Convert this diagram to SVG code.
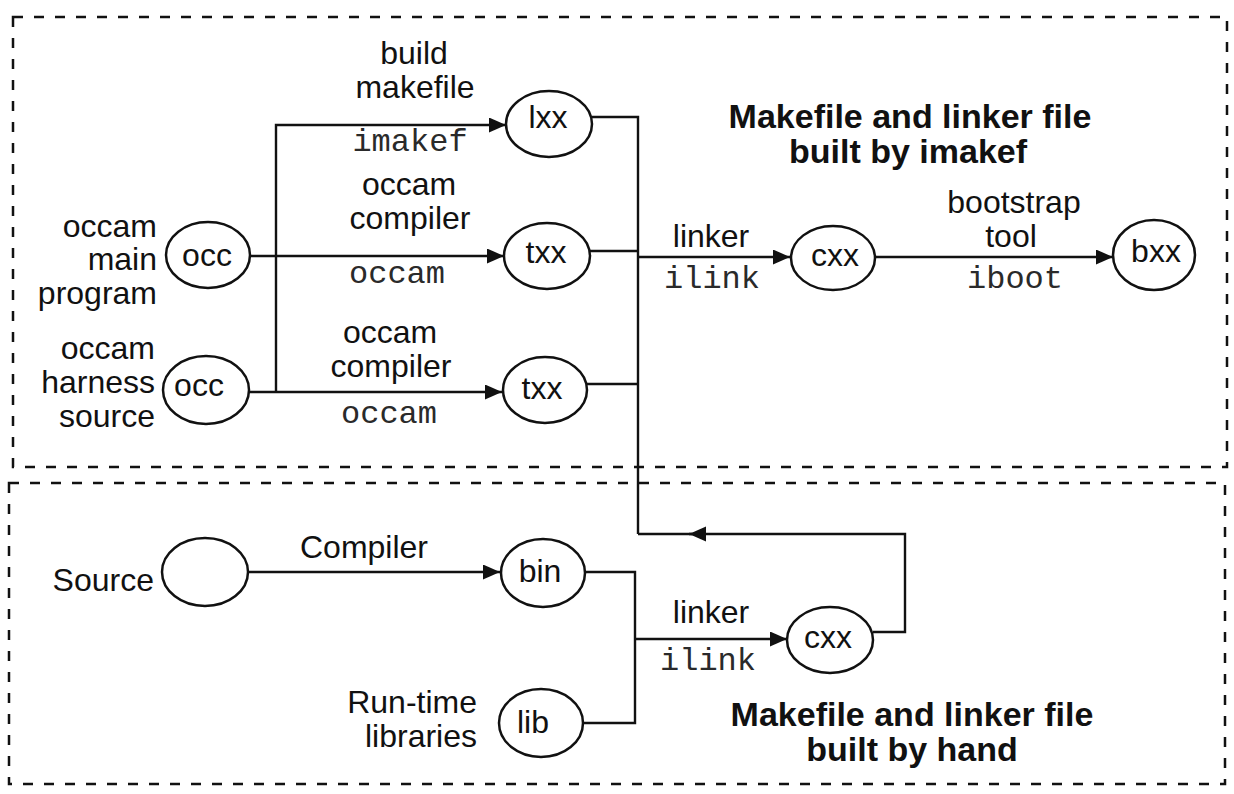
<svg xmlns="http://www.w3.org/2000/svg" width="1234" height="794" viewBox="0 0 1234 794">
  <style>
    .frame { fill: none; stroke: #111; stroke-width: 2.5; stroke-dasharray: 10 11; }
    .node ellipse { fill: #fff; stroke: #111; stroke-width: 2.5; }
    .wire { fill: none; stroke: #111; stroke-width: 2.4; }
    .sans { font-family: "Liberation Sans", Arial, sans-serif; font-size: 32px; fill: #111; }
    .mono { font-family: "Liberation Mono", "Courier New", monospace; font-size: 32px; fill: #2a2a2a; }
    .title { font-family: "Liberation Sans", Arial, sans-serif; font-size: 34px; font-weight: bold; fill: #111; }
    .mid { text-anchor: middle; }
    .end { text-anchor: end; }
  </style>
  <defs>
    <marker id="arrow" markerUnits="userSpaceOnUse" markerWidth="18" markerHeight="16" refX="17" refY="7.5" orient="auto">
      <path d="M0,0 L17,7.5 L0,15 Z" fill="#111"/>
    </marker>
  </defs>

  <rect width="1234" height="794" fill="#fff"/>

  <!-- dashed regions -->
  <g id="regions">
    <rect class="frame" x="13" y="17" width="1214" height="450"/>
    <rect class="frame" x="9" y="483" width="1216" height="301"/>
  </g>

  <!-- connectors -->
  <g id="connectors">
    <!-- imakef / occam fan-out -->
    <path class="wire" d="M276,392 V125 H506" marker-end="url(#arrow)"/>
    <path class="wire" d="M250,256 H504" marker-end="url(#arrow)"/>
    <path class="wire" d="M249,392 H502" marker-end="url(#arrow)"/>
    <!-- outputs into the linker -->
    <path class="wire" d="M592,117 H638 V534"/>
    <path class="wire" d="M590,251 H638"/>
    <path class="wire" d="M587,384 H638"/>
    <path class="wire" d="M638,257 H790" marker-end="url(#arrow)"/>
    <path class="wire" d="M875,257 H1113" marker-end="url(#arrow)"/>
    <!-- hand-built chain -->
    <path class="wire" d="M248,572 H500" marker-end="url(#arrow)"/>
    <path class="wire" d="M585,572 H635 V723 H583"/>
    <path class="wire" d="M635,639 H787" marker-end="url(#arrow)"/>
    <!-- feedback into the linker -->
    <path class="wire" d="M873,632 H905 V534 H689" marker-end="url(#arrow)"/>
    <path class="wire" d="M692,534 H638"/>
  </g>

  <!-- nodes -->
  <g id="occ-main" class="node">
    <ellipse cx="208" cy="255" rx="42" ry="33"/>
    <text class="sans mid" x="207" y="266">occ</text>
  </g>
  <g id="occ-harness" class="node">
    <ellipse cx="206" cy="390" rx="43" ry="34"/>
    <text class="sans mid" x="199" y="396">occ</text>
  </g>
  <g id="lxx" class="node">
    <ellipse cx="549" cy="124" rx="43" ry="33"/>
    <text class="sans mid" x="548" y="128">lxx</text>
  </g>
  <g id="txx-main" class="node">
    <ellipse cx="547" cy="256" rx="43" ry="33"/>
    <text class="sans mid" x="546" y="263">txx</text>
  </g>
  <g id="txx-harness" class="node">
    <ellipse cx="545" cy="390" rx="42" ry="33"/>
    <text class="sans mid" x="542" y="399">txx</text>
  </g>
  <g id="cxx-imakef" class="node">
    <ellipse cx="833" cy="258" rx="42" ry="32"/>
    <text class="sans mid" x="835" y="266">cxx</text>
  </g>
  <g id="bxx" class="node">
    <ellipse cx="1154" cy="255" rx="41" ry="35"/>
    <text class="sans mid" x="1156" y="262">bxx</text>
  </g>
  <g id="source" class="node">
    <ellipse cx="205" cy="572" rx="43" ry="34"/>
  </g>
  <g id="bin" class="node">
    <ellipse cx="543" cy="573" rx="42" ry="34"/>
    <text class="sans mid" x="540" y="582">bin</text>
  </g>
  <g id="lib" class="node">
    <ellipse cx="541" cy="723" rx="42" ry="34"/>
    <text class="sans mid" x="533" y="733">lib</text>
  </g>
  <g id="cxx-hand" class="node">
    <ellipse cx="830" cy="640" rx="43" ry="33"/>
    <text class="sans mid" x="828" y="648">cxx</text>
  </g>

  <!-- input labels -->
  <g id="input-labels">
    <text class="sans end" x="157" y="237">occam</text>
    <text class="sans end" x="157" y="270">main</text>
    <text class="sans end" x="157" y="304">program</text>
    <text class="sans end" x="155" y="359">occam</text>
    <text class="sans end" x="155" y="393">harness</text>
    <text class="sans end" x="155" y="427">source</text>
    <text class="sans end" x="154" y="591">Source</text>
    <text class="sans end" x="477" y="713">Run-time</text>
    <text class="sans end" x="477" y="747">libraries</text>
  </g>

  <!-- tool labels on the connectors -->
  <g id="tool-labels">
    <text class="sans mid" x="414" y="64">build</text>
    <text class="sans mid" x="415" y="98">makefile</text>
    <text class="mono mid" x="410" y="151">imakef</text>
    <text class="sans mid" x="409" y="195">occam</text>
    <text class="sans mid" x="410" y="229">compiler</text>
    <text class="mono mid" x="397" y="283">occam</text>
    <text class="sans mid" x="390" y="343">occam</text>
    <text class="sans mid" x="391" y="377">compiler</text>
    <text class="mono mid" x="389" y="423">occam</text>
    <text class="sans mid" x="711" y="247">linker</text>
    <text class="mono mid" x="712" y="288">ilink</text>
    <text class="sans mid" x="1014" y="213">bootstrap</text>
    <text class="sans mid" x="1011" y="247">tool</text>
    <text class="mono mid" x="1015" y="288">iboot</text>
    <text class="sans mid" x="364" y="558">Compiler</text>
    <text class="sans mid" x="711" y="623">linker</text>
    <text class="mono mid" x="708" y="670">ilink</text>
  </g>

  <!-- region captions -->
  <g id="captions">
    <text class="title mid" x="910" y="128">Makefile and linker file</text>
    <text class="title mid" x="908" y="163">built by imakef</text>
    <text class="title mid" x="912" y="726">Makefile and linker file</text>
    <text class="title mid" x="912" y="761">built by hand</text>
  </g>
</svg>
